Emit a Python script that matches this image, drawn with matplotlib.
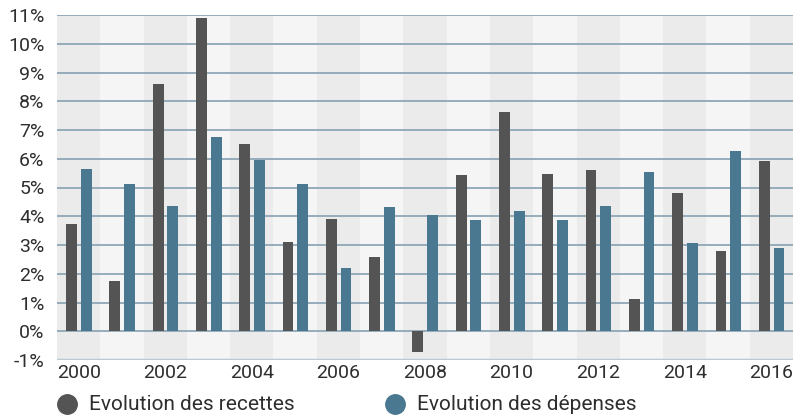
import matplotlib
matplotlib.use("Agg")
import matplotlib.pyplot as plt
from matplotlib.lines import Line2D
import numpy as np

years = list(range(2000, 2017))
recettes = [3.73, 1.74, 8.60, 10.90, 6.52, 3.10, 3.90, 2.58, -0.72, 5.44,
            7.63, 5.47, 5.61, 1.11, 4.81, 2.79, 5.92]
depenses = [5.64, 5.12, 4.36, 6.76, 5.96, 5.12, 2.20, 4.32, 4.04, 3.87,
            4.18, 3.87, 4.36, 5.54, 3.07, 6.27, 2.89]
y_ticks = list(range(-1, 12))

plt.rcParams['font.family'] = ['Roboto', 'DejaVu Sans']
text_color = '#2e2e2e'
col_rec = '#545454'
col_dep = '#4a7891'

fig = plt.figure(figsize=(7.93, 4.16), dpi=100)
ax = fig.add_axes([57 / 793, 1 - 360 / 416, (793 - 57) / 793, (360 - 15) / 416])

x = np.arange(len(years))
# alternating year bands
for i in x:
    ax.axvspan(i - 0.5, i + 0.5, color='#ebebeb' if i % 2 == 0 else '#f5f5f5',
               zorder=0, lw=0)

# horizontal grid
for t in y_ticks:
    if t == -1:
        ax.axhline(t, color='#b9cad4', lw=2.5, zorder=1)
    else:
        ax.axhline(t, color='#8fa7b7', lw=1.3, zorder=1)

w = 0.25
ax.bar(x - 0.165, recettes, width=w, color=col_rec, zorder=3)
ax.bar(x + 0.175, depenses, width=w, color=col_dep, zorder=3)

ax.set_xlim(-0.5, len(years) - 0.5)
ax.set_ylim(-1, 11)
ax.set_yticks(y_ticks)
ax.set_yticklabels([f"{t}%" for t in y_ticks])
ax.set_xticks(x[::2])
ax.set_xticklabels([str(y) for y in years[::2]])
ax.tick_params(axis='both', length=0, labelsize=14, colors=text_color)
ax.tick_params(axis='y', pad=9)
ax.tick_params(axis='x', pad=3)
for s in ax.spines.values():
    s.set_visible(False)

# legend
fig.add_artist(Line2D([67 / 793], [1 - 404 / 416], marker='o', markersize=14,
                      color=col_rec, lw=0, transform=fig.transFigure))
fig.text(89 / 793, 1 - 404 / 416, "Evolution des recettes", fontsize=15,
         color=text_color, va='center', ha='left')
fig.add_artist(Line2D([395 / 793], [1 - 404 / 416], marker='o', markersize=14,
                      color=col_dep, lw=0, transform=fig.transFigure))
fig.text(417 / 793, 1 - 404 / 416, "Evolution des dépenses", fontsize=15,
         color=text_color, va='center', ha='left')

fig.savefig("out.png", dpi=100)
